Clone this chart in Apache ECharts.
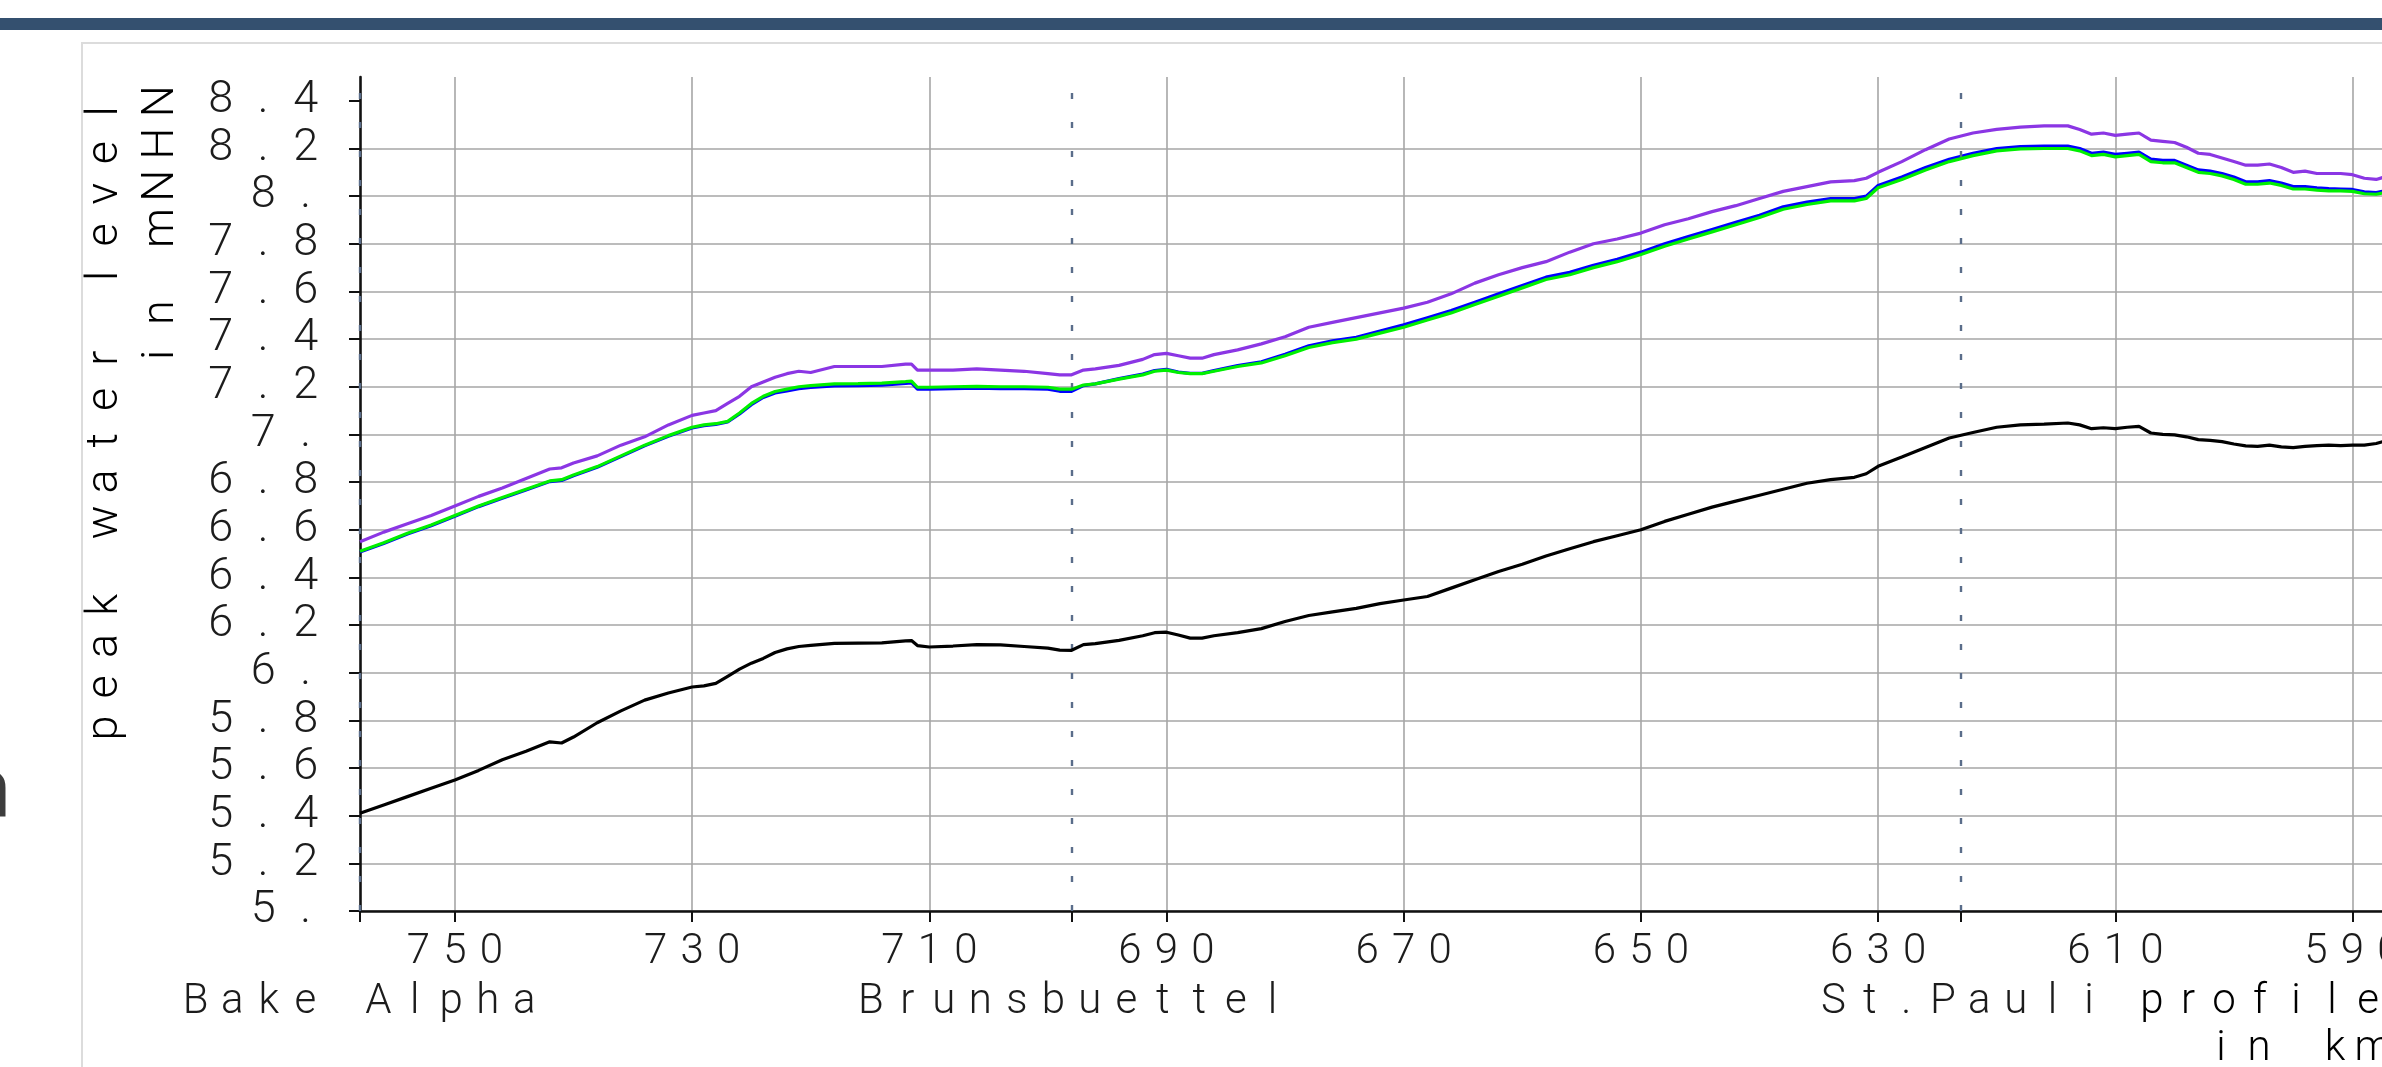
<!DOCTYPE html>
<html>
<head>
<meta charset="utf-8">
<script src="https://cdn.jsdelivr.net/npm/echarts@6/dist/echarts.min.js"></script>
<style>
  html, body { margin: 0; padding: 0; background: #ffffff; }
  #chart { width: 2382px; height: 1067px; }
</style>
</head>
<body>
<div id="chart"></div>
<script>
// Elbe kilometre of each sample point (river runs from the sea, left, upstream to the right)
const km = [758,756,754,752,750,748,746,744,742,741,740,738,736,734,732,730,729,728,727,726,725,724,723,722,721,720,718,716,714,712,711.5,711,710,708,706,704,702,700,699,698,697,696,694,692,691,690,689,688,687,686,684,682,680,678,676,674,672,670,668,666,664,662,660,658,656,654,652,650,648,646,644,642,640,638,636,634,632,631,630,628,626,624,622,620,618,616,614,613,612,611,610,609,608,607,606,605,604,603,602,601,600,599,598,597,596,595,594,593,592,591,590,589,588,587,586];

// Peak water level (m NHN) per curve
const hwViolet = [6.55,6.59,6.625,6.66,6.70,6.74,6.775,6.815,6.855,6.86,6.88,6.91,6.955,6.99,7.04,7.08,7.09,7.10,7.13,7.16,7.20,7.22,7.24,7.255,7.265,7.26,7.285,7.285,7.285,7.295,7.295,7.27,7.27,7.27,7.275,7.27,7.265,7.255,7.25,7.25,7.27,7.275,7.29,7.315,7.335,7.34,7.33,7.32,7.32,7.335,7.355,7.38,7.41,7.45,7.47,7.49,7.51,7.53,7.555,7.59,7.635,7.67,7.70,7.725,7.765,7.80,7.82,7.845,7.88,7.905,7.935,7.96,7.99,8.02,8.04,8.06,8.065,8.075,8.10,8.145,8.195,8.24,8.265,8.28,8.29,8.295,8.295,8.28,8.26,8.265,8.255,8.26,8.265,8.235,8.23,8.225,8.205,8.18,8.175,8.16,8.145,8.13,8.13,8.135,8.12,8.10,8.105,8.095,8.095,8.095,8.09,8.075,8.07,8.085,8.09];
const hwBlue = [6.507,6.542,6.582,6.617,6.657,6.697,6.732,6.767,6.802,6.807,6.827,6.862,6.907,6.952,6.992,7.027,7.037,7.042,7.052,7.086,7.125,7.155,7.174,7.183,7.192,7.197,7.204,7.205,7.207,7.214,7.216,7.19,7.19,7.192,7.194,7.192,7.192,7.19,7.181,7.181,7.205,7.212,7.234,7.253,7.268,7.273,7.262,7.256,7.256,7.268,7.289,7.305,7.336,7.372,7.393,7.408,7.434,7.46,7.49,7.52,7.555,7.59,7.625,7.66,7.68,7.71,7.735,7.765,7.80,7.83,7.86,7.89,7.92,7.955,7.975,7.99,7.99,8.0,8.045,8.08,8.12,8.155,8.18,8.20,8.208,8.21,8.21,8.20,8.18,8.185,8.175,8.18,8.185,8.155,8.15,8.15,8.13,8.11,8.105,8.095,8.08,8.06,8.06,8.065,8.055,8.04,8.04,8.035,8.032,8.03,8.028,8.018,8.015,8.025,8.03];
const hwGreen = [6.51,6.545,6.585,6.62,6.66,6.70,6.735,6.77,6.805,6.81,6.83,6.865,6.91,6.955,6.995,7.03,7.04,7.045,7.055,7.09,7.13,7.16,7.18,7.19,7.20,7.205,7.212,7.213,7.215,7.222,7.224,7.198,7.198,7.20,7.202,7.20,7.20,7.198,7.19,7.19,7.207,7.212,7.232,7.25,7.265,7.27,7.26,7.255,7.255,7.265,7.285,7.30,7.33,7.365,7.385,7.40,7.425,7.45,7.48,7.51,7.545,7.58,7.615,7.65,7.67,7.70,7.725,7.755,7.79,7.82,7.85,7.88,7.91,7.945,7.965,7.98,7.98,7.99,8.035,8.07,8.11,8.145,8.17,8.19,8.198,8.20,8.20,8.19,8.17,8.175,8.165,8.17,8.175,8.145,8.14,8.14,8.12,8.10,8.095,8.085,8.07,8.05,8.05,8.055,8.045,8.03,8.03,8.025,8.022,8.022,8.02,8.01,8.008,8.018,8.022];
const hwBlack = [5.41,5.445,5.48,5.515,5.55,5.59,5.635,5.67,5.71,5.705,5.73,5.79,5.84,5.885,5.915,5.94,5.945,5.955,5.985,6.015,6.04,6.06,6.085,6.10,6.11,6.115,6.123,6.124,6.125,6.134,6.135,6.114,6.108,6.112,6.118,6.117,6.11,6.103,6.095,6.094,6.118,6.122,6.136,6.155,6.168,6.17,6.158,6.145,6.145,6.155,6.168,6.185,6.215,6.24,6.255,6.27,6.29,6.305,6.32,6.355,6.39,6.425,6.455,6.49,6.52,6.55,6.575,6.60,6.635,6.665,6.695,6.72,6.745,6.77,6.795,6.81,6.82,6.835,6.866,6.905,6.945,6.985,7.008,7.03,7.04,7.043,7.048,7.04,7.024,7.028,7.024,7.03,7.034,7.006,7.0,6.998,6.99,6.978,6.975,6.97,6.96,6.952,6.95,6.955,6.948,6.945,6.95,6.953,6.955,6.953,6.955,6.955,6.962,6.975,6.985];

// Axis ticks
const xTicks = [750, 730, 710, 690, 670, 650, 630, 610, 590, 570];
const yTicks = [5.0, 5.2, 5.4, 5.6, 5.8, 6.0, 6.2, 6.4, 6.6, 6.8, 7.0, 7.2, 7.4, 7.6, 7.8, 8.0, 8.2, 8.4];

// Gauges along the river
const stationNames = ['Bake Alpha', 'Brunsbuettel', 'St.Pauli'];
const stationKm = [758, 698, 623];

// Titles
const yTitle = ['peak water level', 'in mNHN'];
const xTitle = ['profile', 'in km'];

const X_MIN = 570, X_MAX = 758;
const Y_MIN = 5.0, Y_MAX = 8.5;
const PX_PER_KM = 11.86;

const FONT = 'Roboto, "Liberation Sans", "DejaVu Sans", sans-serif';
const INK = '#1c1c1c';

// Plotter-style lettering: every character sits in a fixed-width cell
function cells(str) {
  return str.split('').map(ch => '{c|' + ch + '}').join('');
}
function cellStyle(pitch, size) {
  return { c: { fontFamily: FONT, fontWeight: 300, fontSize: size, color: INK,
                width: pitch, align: 'center', lineHeight: size } };
}
function levelLabel(v) {
  const r = Math.round(v * 10) / 10;
  return Number.isInteger(r) ? r + '.' : r.toFixed(1);
}

const pairs = arr => km.map((k, i) => [k, arr[i]]);

function curve(name, data, color, z) {
  return {
    name, type: 'line', data: pairs(data), z,
    showSymbol: false, symbol: 'none', silent: true, clip: true,
    lineStyle: { color, width: 3.2 }, itemStyle: { color },
    animation: false
  };
}

const chart = echarts.init(document.getElementById('chart'), null, { renderer: 'canvas' });

chart.setOption({
  backgroundColor: '#ffffff',
  animation: false,
  grid: {
    left: 360, top: 77,
    width: (X_MAX - X_MIN) * PX_PER_KM,
    height: 834,
    containLabel: false,
    outerBoundsMode: 'none'
  },
  xAxis: [
    {
      type: 'value', inverse: true, min: X_MIN, max: X_MAX, interval: 20,
      position: 'bottom',
      axisLine: { show: true, onZero: false, lineStyle: { color: '#111', width: 2.6 } },
      axisTick: { show: true, length: 11, customValues: xTicks, lineStyle: { color: '#111', width: 2 } },
      axisLabel: {
        customValues: xTicks, margin: 20,
        formatter: v => cells(String(v)),
        rich: cellStyle(36.5, 42)
      },
      splitLine: { show: true, lineStyle: { color: '#a6a6a6', width: 1.6 } }
    },
    {
      type: 'value', inverse: true, min: X_MIN, max: X_MAX,
      position: 'bottom',
      axisLine: { show: false, onZero: false },
      axisTick: { show: true, length: 11, customValues: stationKm, lineStyle: { color: '#111', width: 2 } },
      axisLabel: {
        customValues: stationKm, margin: 70, showMinLabel: true, showMaxLabel: true,
        formatter: v => cells(stationNames[stationKm.indexOf(v)] || ''),
        rich: cellStyle(36.5, 42)
      },
      splitLine: { show: false }
    }
  ],
  yAxis: {
    type: 'value', min: Y_MIN, max: Y_MAX, interval: 0.2,
    axisLine: { show: true, onZero: false, lineStyle: { color: '#111', width: 2.6 } },
    axisTick: { show: true, length: 11, customValues: yTicks, lineStyle: { color: '#111', width: 2 } },
    axisLabel: {
      customValues: yTicks, margin: 33,
      formatter: v => cells(levelLabel(v)),
      rich: cellStyle(42.5, 45)
    },
    splitLine: { show: true, showMaxLine: false, lineStyle: { color: '#a6a6a6', width: 1.6 } }
  },
  series: [
    {
      name: 'gauges', type: 'line', data: [], z: 1, silent: true,
      markLine: {
        silent: true, symbol: ['none', 'none'], animation: false,
        label: { show: false },
        lineStyle: { color: '#5a6d8a', width: 2.4, type: [6, 23] },
        data: stationKm.map(k => ({ xAxis: k }))
      }
    },
    curve('violet', hwViolet, '#8b36e4', 3),
    curve('blue', hwBlue, '#0000ff', 4),
    curve('green', hwGreen, '#00f000', 5),
    curve('black', hwBlack, '#000000', 6)
  ],
  graphic: [
    // header band and panel frame
    { type: 'rect', z: -10, silent: true, shape: { x: 0, y: 18, width: 2382, height: 12 },
      style: { fill: '#34506f' } },
    { type: 'rect', z: -10, silent: true, shape: { x: 82, y: 43, width: 2400, height: 1100 },
      style: { fill: 'none', stroke: '#dcdcdc', lineWidth: 2 } },
    // page text running in from the left margin
    { type: 'text', silent: true, x: 11, y: 796,
      style: { text: 'n', font: '400 81px Roboto, sans-serif', fill: '#3d3d3d',
               align: 'right', verticalAlign: 'middle' } },
    // value axis title, two lines reading upwards
    { type: 'text', silent: true, x: 106, y: 91, rotation: Math.PI / 2,
      style: { text: cells(yTitle[0]), rich: cellStyle(41.1, 45), align: 'right', verticalAlign: 'middle' } },
    { type: 'text', silent: true, x: 162, y: 80, rotation: Math.PI / 2,
      style: { text: cells(yTitle[1]), rich: cellStyle(42.3, 45), align: 'right', verticalAlign: 'middle' } },
    // distance axis title
    { type: 'text', silent: true, x: 2386, y: 1002,
      style: { text: cells(xTitle[0]), rich: cellStyle(36, 42), align: 'right', verticalAlign: 'middle' } },
    { type: 'text', silent: true, x: 2392, y: 1049,
      style: { text: cells(xTitle[1]), rich: cellStyle(38, 42), align: 'right', verticalAlign: 'middle' } }
  ]
});
</script>
</body>
</html>
